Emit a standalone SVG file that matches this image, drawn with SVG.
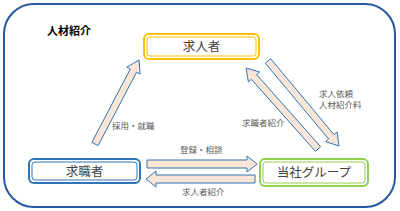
<svg xmlns="http://www.w3.org/2000/svg" width="400" height="211" viewBox="0 0 400 211">
<style>
.frame{fill:#fff;stroke:#2458A0;stroke-width:2}
.arr{fill:#FBE5D6;stroke:#2E75B6;stroke-width:1;stroke-linejoin:miter}
.lbl{font-family:"Noto Sans CJK JP","Noto Sans",sans-serif;font-size:8.5px;fill:#595959}
.box{font-family:"Noto Sans CJK JP","Noto Sans",sans-serif;font-size:12.5px;fill:#404040;text-anchor:middle}
.title{font-family:"Noto Sans CJK JP","Noto Sans",sans-serif;font-size:11px;font-weight:bold;fill:#000}
.o{fill:#fff;stroke-width:2}
.i{fill:none;stroke-width:1}
</style>
<rect class="frame" x="4" y="4" width="391" height="203" rx="30" ry="30"/>
<text class="title" x="47" y="35">人材紹介</text>
<g id="connectors">
  <polygon class="arr" points="98.1,145.6 136.5,72.3 140.1,74.1 139,60 126.8,67.2 130.3,69.0 91.9,142.4"/>
  <polygon class="arr" points="265.3,63.2 328.6,139.0 325.6,141.6 339,146 337.1,132.0 334.0,134.6 270.7,58.8"/>
  <polygon class="arr" points="320.6,146.7 256.6,74.6 259.6,72.0 246,68 248.4,82.0 251.4,79.3 315.4,151.3"/>
  <polygon class="arr" points="147,160 247,160 247,156 257,164 247,172 247,168 147,168"/>
  <polygon class="arr" points="255,175 156,175 156,171 146,179 156,187 156,183 255,183"/>
  <text class="lbl" x="112" y="129">採用・就職</text>
  <text class="lbl" x="319" y="96.5">求人依頼</text>
  <text class="lbl" x="319" y="107.5">人材紹介料</text>
  <text class="lbl" x="242" y="126">求職者紹介</text>
  <text class="lbl" x="180" y="153">登録・相談</text>
  <text class="lbl" x="182" y="195">求人者紹介</text>
</g>
<g id="employer">
  <rect class="o" x="144" y="34" width="115" height="25" rx="5" stroke="#FFC000"/>
  <rect class="i" x="147" y="37" width="109" height="19" rx="3" stroke="#FFC000"/>
  <text class="box" x="201.5" y="51">求人者</text>
</g>
<g id="seeker">
  <rect class="o" x="29" y="159" width="111" height="24" rx="5" stroke="#2E75B6"/>
  <rect class="i" x="32" y="162" width="105" height="18" rx="3" stroke="#2E75B6"/>
  <text class="box" x="84.5" y="176">求職者</text>
</g>
<g id="company">
  <rect class="o" x="260" y="159" width="108" height="27" rx="5" stroke="#92D050"/>
  <rect class="i" x="263" y="162" width="102" height="21" rx="3" stroke="#92D050"/>
  <text class="box" x="314" y="177">当社グループ</text>
</g>
</svg>
